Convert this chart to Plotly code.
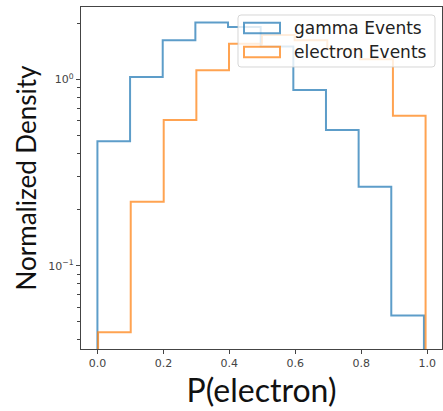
import plotly.graph_objects as go

# Histogram bin edges and normalized densities (10 bins each)
gamma_edges = [0.000, 0.099, 0.198, 0.297, 0.396, 0.495, 0.594, 0.693, 0.792, 0.891, 0.990]
gamma_density = [0.465, 1.03, 1.62, 2.02, 1.91, 1.50, 0.877, 0.535, 0.265, 0.054]

electron_edges = [0.002, 0.101, 0.201, 0.300, 0.399, 0.499, 0.598, 0.697, 0.796, 0.896, 0.995]
electron_density = [0.044, 0.22, 0.605, 1.12, 1.55, 1.73, 1.62, 1.45, 1.28, 0.638]

series_names = ["gamma Events", "electron Events"]
series_colors = ["rgba(31,119,180,0.72)", "rgba(255,127,14,0.72)"]

x_ticks = [0.0, 0.2, 0.4, 0.6, 0.8, 1.0]
x_tick_text = ["0.0", "0.2", "0.4", "0.6", "0.8", "1.0"]
y_major = [0.1, 1.0]
y_major_text = ["10<sup>\u22121</sup>", "10<sup>0</sup>"]
y_minor = [0.04, 0.05, 0.06, 0.07, 0.08, 0.09,
           0.2, 0.3, 0.4, 0.5, 0.6, 0.7, 0.8, 0.9, 2.0]

W, H = 443, 411
L, R, T, B = 81, 1, 7, 62
PW, PH = W - L - R, H - T - B


def px(x):
    return (x - L) / PW


def py(y):
    return (H - B - y) / PH


def step_path(edges, dens, floor=1e-4):
    """Outline of a step histogram, dropping to the floor at both ends."""
    xs, ys = [edges[0]], [floor]
    for i, d in enumerate(dens):
        xs += [edges[i], edges[i + 1]]
        ys += [d, d]
    xs.append(edges[-1])
    ys.append(floor)
    return xs, ys


fig = go.Figure()
for edges, dens, name, col in zip(
    [gamma_edges, electron_edges],
    [gamma_density, electron_density],
    series_names, series_colors,
):
    xs, ys = step_path(edges, dens)
    fig.add_trace(go.Scatter(
        x=xs, y=ys, mode="lines", name=name,
        line=dict(color=col, width=2), showlegend=False,
        hoverinfo="skip",
    ))

axis_common = dict(
    showline=True, linecolor="#444", linewidth=1.2, mirror=True,
    ticks="outside", ticklen=4, tickwidth=1, tickcolor="#444",
    showgrid=False, zeroline=False,
    tickfont=dict(family="DejaVu Sans", size=11, color="#444"),
)

fig.update_xaxes(
    range=[-0.0498, 1.0448], tickmode="array",
    tickvals=x_ticks, ticktext=x_tick_text,
    title=dict(text="P(electron)", standoff=10,
               font=dict(family="Lato", size=32, color="#111")),
    **axis_common,
)
fig.update_yaxes(
    type="log", range=[-1.447, 0.388], tickmode="array",
    tickvals=y_major, ticktext=y_major_text,
    minor=dict(tickmode="array", tickvals=y_minor, ticks="outside",
               ticklen=2.5, tickcolor="#444", showgrid=False),
    title=dict(text="Normalized Density", standoff=4,
               font=dict(family="Lato", size=26, color="#111")),
    **axis_common,
)

# Legend box drawn above the histogram lines
lx0, lx1, ly0, ly1 = 238, 435, 15, 67
rx, ry = 3 / PW, 3 / PH
X0, X1, Y0, Y1 = px(lx0), px(lx1), py(ly1), py(ly0)
box = (f"M{X0 + rx},{Y0} L{X1 - rx},{Y0} Q{X1},{Y0} {X1},{Y0 + ry} "
       f"L{X1},{Y1 - ry} Q{X1},{Y1} {X1 - rx},{Y1} L{X0 + rx},{Y1} "
       f"Q{X0},{Y1} {X0},{Y1 - ry} L{X0},{Y0 + ry} Q{X0},{Y0} {X0 + rx},{Y0} Z")
shapes = [dict(type="path", path=box, xref="paper", yref="paper",
               fillcolor="rgba(255,255,255,0.8)",
               line=dict(color="rgba(204,204,204,0.8)", width=1), layer="above")]
annotations = []
for i, (name, col) in enumerate(zip(series_names, series_colors)):
    cy = 28 + i * 24
    shapes.append(dict(type="rect", xref="paper", yref="paper",
                       x0=px(244), x1=px(280), y0=py(cy + 5.3), y1=py(cy - 5.3),
                       line=dict(color=col, width=2),
                       fillcolor="rgba(0,0,0,0)", layer="above"))
    annotations.append(dict(x=px(292), y=py(cy), xref="paper", yref="paper",
                            text=name, showarrow=False, xanchor="left",
                            yanchor="middle",
                            font=dict(family="DejaVu Sans", size=17, color="#222")))

fig.update_layout(
    width=W, height=H,
    margin=dict(l=L, r=R, t=T, b=B, autoexpand=False),
    paper_bgcolor="white", plot_bgcolor="white",
    shapes=shapes, annotations=annotations,
    showlegend=False,
)

fig.write_html("out.html")
